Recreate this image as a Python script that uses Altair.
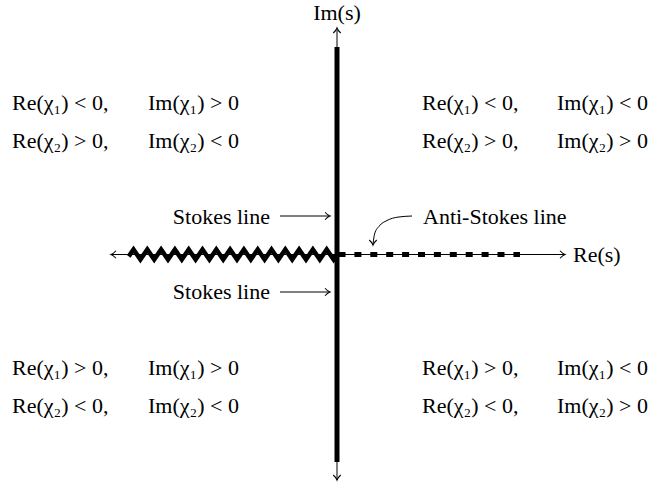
import altair as alt
import pandas as pd

# ---- diagram coordinates (origin at the crossing of the axes) ----
axis_x1 = [-226, 0]
axis_x2 = [228, 0]
axis_y1 = [0, 224.5]
axis_y2 = [0, -225.5]

thick_y = [207.5, -207.5]          # Stokes line (thick vertical)

zig_x = [-207, -203.5, -196.6, -189.7, -182.8, -175.9, -169.0, -162.1, -155.2, -148.3,
         -141.4, -134.5, -127.6, -120.7, -113.8, -106.9, -100.0, -93.1, -86.2, -79.3,
         -72.4, -65.5, -58.6, -51.7, -44.8, -37.9, -31.0, -24.1, -17.2, -10.3, -3.4, 0]
zig_y = [0, 5, -5, 5, -5, 5, -5, 5, -5, 5, -5, 5, -5, 5, -5, 5, -5, 5, -5, 5,
         -5, 5, -5, 5, -5, 5, -5, 5, -5, 5, -5, 0]

dash_x = [1.5, 183]                 # anti-Stokes dashed segment

stokes_arrow_x = [-57, -8]
stokes_arrow_y = [38.5, -37.5]

curve_x = [36, 37.6, 42.2, 50, 61, 75]
curve_y = [10.5, 20.6, 28.4, 34, 37.4, 38.5]

head_x = [-226, 228, 0, 0, -7, -7, 36]
head_y = [0, 0, 226.5, -225.5, 38.5, -37.5, 9.5]
head_angle = [180, 0, 270, 90, 0, 0, 90]

region_re = ["Re(χ₁) < 0,", "Re(χ₂) > 0,", "Re(χ₁) < 0,", "Re(χ₂) > 0,",
             "Re(χ₁) > 0,", "Re(χ₂) < 0,", "Re(χ₁) > 0,", "Re(χ₂) < 0,"]
region_im = ["Im(χ₁) > 0", "Im(χ₂) < 0", "Im(χ₁) < 0", "Im(χ₂) > 0",
             "Im(χ₁) > 0", "Im(χ₂) < 0", "Im(χ₁) < 0", "Im(χ₂) > 0"]
region_re_x = [-325, -325, 85, 85, -325, -325, 85, 85]
region_im_x = [-189, -189, 220, 220, -189, -189, 220, 220]
region_y = [151.5, 113.5, 151.5, 113.5, -113.5, -151.5, -113.5, -151.5]

left_labels = ["Anti-Stokes line", "Re(s)"]
left_x = [86, 236]
left_y = [37.8, 0]

right_labels = ["Stokes line", "Stokes line"]
right_x = [-67, -67]
right_y = [37.8, -37.2]

center_labels = ["Im(s)"]
center_x = [0]
center_y = [241.5]

FONT = "Liberation Serif"
FS = 22

xs = alt.Scale(domain=[-337, 325], nice=False, zero=False)
ys = alt.Scale(domain=[-233.5, 254.5], nice=False, zero=False)


def X(f="x"):
    return alt.X(f"{f}:Q", scale=xs, axis=None)


def Y(f="y"):
    return alt.Y(f"{f}:Q", scale=ys, axis=None)


axes_df = pd.DataFrame({
    "x": [axis_x1[0], axis_y1[0]], "y": [axis_x1[1], axis_y1[1]],
    "x2": [axis_x2[0], axis_y2[0]], "y2": [axis_x2[1], axis_y2[1]],
})
axes = alt.Chart(axes_df).mark_rule(color="black", strokeWidth=1).encode(
    x=X(), y=Y(), x2="x2:Q", y2="y2:Q")

thick = alt.Chart(pd.DataFrame({"x": [0], "y": [thick_y[0]], "y2": [thick_y[1]]})).mark_rule(
    color="black", strokeWidth=5).encode(x=X(), y=Y(), y2="y2:Q")

zig_df = pd.DataFrame({"x": zig_x, "y": zig_y, "o": list(range(len(zig_x)))})
zig = alt.Chart(zig_df).mark_line(color="black", strokeWidth=4.5, strokeJoin="miter",
                                  strokeCap="square").encode(
    x=X(), y=Y(), order="o:Q")

dash = alt.Chart(pd.DataFrame({"x": [dash_x[0]], "x2": [dash_x[1]], "y": [0]})).mark_rule(
    color="black", strokeWidth=5, strokeDash=[7, 8.9]).encode(x=X(), x2="x2:Q", y=Y())

sa_df = pd.DataFrame({"x": [stokes_arrow_x[0]] * 2, "x2": [stokes_arrow_x[1]] * 2,
                      "y": stokes_arrow_y})
sarrows = alt.Chart(sa_df).mark_rule(color="black", strokeWidth=1).encode(
    x=X(), x2="x2:Q", y=Y())

curve = alt.Chart(pd.DataFrame({"x": curve_x, "y": curve_y})).mark_line(
    color="black", strokeWidth=1, interpolate="monotone").encode(x=X(), y=Y())

ARROW = "M-1,-0.75 Q-0.45,-0.15 0,0 Q-0.45,0.15 -1,0.75"
heads = alt.Chart(pd.DataFrame({"x": head_x, "y": head_y, "a": head_angle})).mark_point(
    shape=ARROW, filled=False, color="black", strokeWidth=1.1, size=100, opacity=1).encode(
    x=X(), y=Y(), angle=alt.Angle("a:Q", scale=None))

reg_df = pd.DataFrame({"re": region_re, "im": region_im, "rx": region_re_x,
                       "ix": region_im_x, "y": region_y})
reg_re = alt.Chart(reg_df).mark_text(align="left", baseline="middle", font=FONT,
                                     fontSize=FS, color="black").encode(
    x=X("rx"), y=Y(), text="re:N")
reg_im = alt.Chart(reg_df).mark_text(align="left", baseline="middle", font=FONT,
                                     fontSize=FS, color="black").encode(
    x=X("ix"), y=Y(), text="im:N")

lt = alt.Chart(pd.DataFrame({"x": left_x, "y": left_y, "t": left_labels})).mark_text(
    align="left", baseline="middle", font=FONT, fontSize=FS, color="black").encode(
    x=X(), y=Y(), text="t:N")
rt = alt.Chart(pd.DataFrame({"x": right_x, "y": right_y, "t": right_labels})).mark_text(
    align="right", baseline="middle", font=FONT, fontSize=FS, color="black").encode(
    x=X(), y=Y(), text="t:N")
ct = alt.Chart(pd.DataFrame({"x": center_x, "y": center_y, "t": center_labels})).mark_text(
    align="center", baseline="middle", font=FONT, fontSize=FS, color="black").encode(
    x=X(), y=Y(), text="t:N")

chart = alt.layer(axes, thick, zig, dash, sarrows, curve, heads,
                  reg_re, reg_im, lt, rt, ct).properties(
    width=662, height=488, padding=0,
    autosize=alt.AutoSizeParams(type="none"),
    background="white",
).configure_view(stroke=None)

chart.save("out.html", embed_options={"renderer": "svg", "actions": False})
